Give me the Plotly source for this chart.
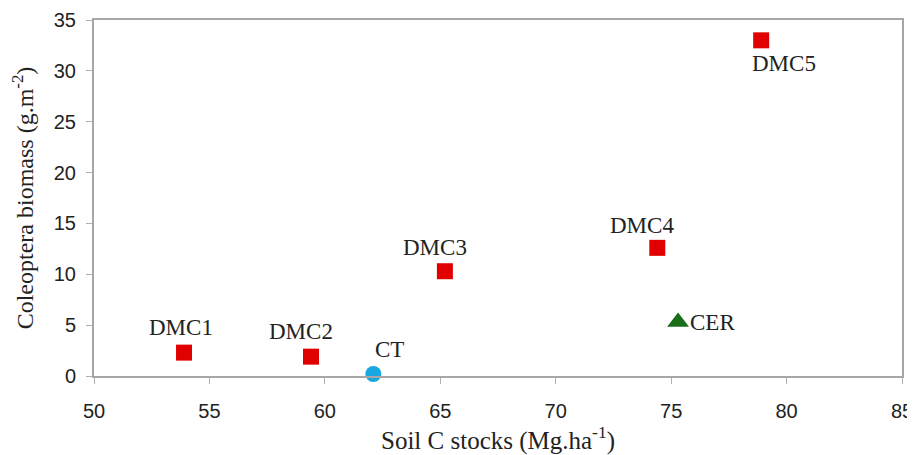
import plotly.graph_objects as go

labels = ["DMC1", "DMC2", "CT", "DMC3", "DMC4", "CER", "DMC5"]
soil_c = [53.9, 59.4, 62.1, 65.2, 74.4, 75.3, 78.9]
biomass = [2.3, 1.9, 0.2, 10.3, 12.6, 5.3, 33.0]
groups = ["DMC", "DMC", "CT", "DMC", "DMC", "CER", "DMC"]

x_ticks = [50, 55, 60, 65, 70, 75, 80, 85]
y_ticks = [0, 5, 10, 15, 20, 25, 30, 35]

style = {
    "DMC": dict(symbol="square", color="#e00000", size=16),
    "CT": dict(symbol="circle", color="#1aa7e0", size=16),
    "CER": dict(symbol="triangle-up", color="#1a6e1a", size=19),
}

# label offsets (px) relative to marker
offsets = {
    "DMC1": (-3, 25), "DMC2": (-10, 25), "CT": (16, 24), "DMC3": (-10, 24),
    "DMC4": (-15, 22), "CER": (34, 0), "DMC5": (23, -23),
}

fig = go.Figure()
for g in ["DMC", "CT", "CER"]:
    xs = [x for x, gg in zip(soil_c, groups) if gg == g]
    ys = [y for y, gg in zip(biomass, groups) if gg == g]
    st = style[g]
    fig.add_trace(go.Scatter(
        x=xs, y=ys, mode="markers",
        marker=dict(symbol=st["symbol"], color=st["color"], size=st["size"], line=dict(width=0)),
        showlegend=False, cliponaxis=False,
    ))

for lab, x, y in zip(labels, soil_c, biomass):
    dx, dy = offsets[lab]
    fig.add_annotation(x=x, y=y, text=lab, showarrow=False, xshift=dx, yshift=dy,
                       font=dict(family="Liberation Serif", size=23, color="#222"))

axis_common = dict(
    showgrid=False, zeroline=False, showline=True, linecolor="#a6a6a6", linewidth=2,
    mirror=True, ticks="outside", ticklen=6, tickcolor="#b0b0b0", tickwidth=1,
    tickfont=dict(family="Liberation Sans", size=20, color="#222"), automargin=False,
)

fig.update_xaxes(range=[50, 85], tickvals=x_ticks, ticklabelstandoff=10,
                 title=dict(text="Soil C stocks (Mg.ha<sup>-1</sup>)", standoff=6,
                            font=dict(family="Liberation Serif", size=25, color="#222")),
                 **axis_common)
fig.update_yaxes(range=[0, 35], tickvals=y_ticks, ticklabelstandoff=6,
                 title=dict(text="Coleoptera biomass (g.m<sup>-2</sup>)", standoff=16,
                            font=dict(family="Liberation Serif", size=24, color="#222")),
                 **axis_common)

# page body has an 8px default margin, so the figure is sized to fit the window
fig.update_layout(
    width=907, height=447,
    margin=dict(l=86, r=13, t=12, b=79),
    paper_bgcolor="white", plot_bgcolor="white",
)

fig.write_html("out.html")
